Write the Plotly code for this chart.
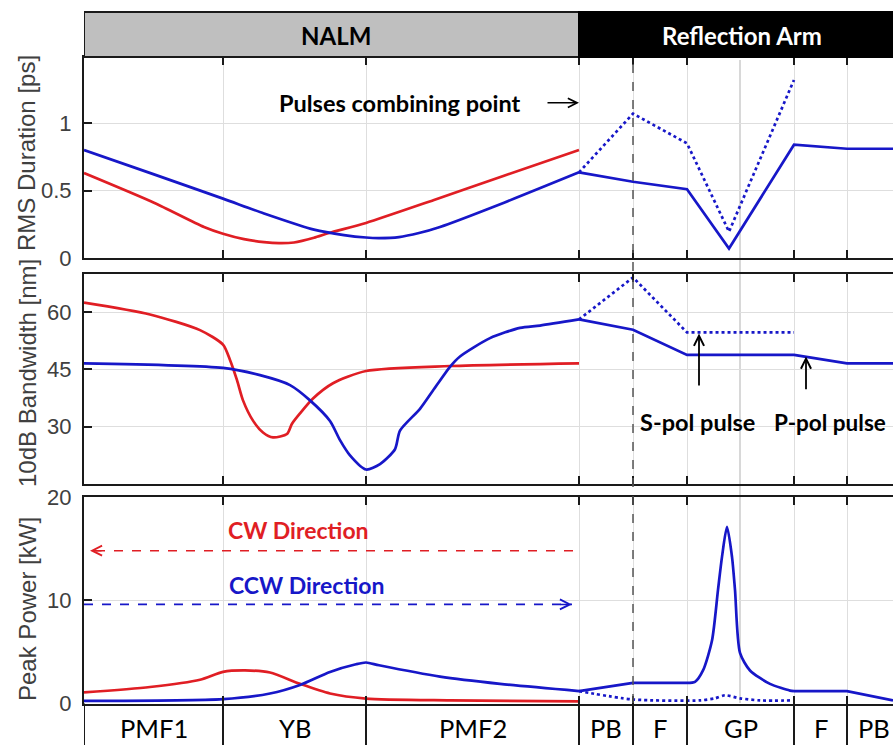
import plotly.graph_objects as go

# ---------------- data ----------------
seg_edges = [0, 1.39, 2.82, 4.95, 5.49, 6.03, 7.10, 7.63, 8.16]
seg_names = ["PMF1", "YB", "PMF2", "PB", "F", "GP", "F", "PB"]
x_view = [0, 8.09]
combine_x = 5.49
gp_mid = 6.56

# Panel 1: RMS duration [ps]
rms_cw_x = [0, 0.70, 1.20, 1.39, 1.60, 1.80, 1.95, 2.10, 2.30, 2.45, 2.82, 3.50, 4.20, 4.95]
rms_cw = [0.63, 0.41, 0.23, 0.18, 0.14, 0.118, 0.11, 0.115, 0.15, 0.185, 0.26, 0.43, 0.61, 0.80]
rms_ccw_x = [0, 0.70, 1.39, 1.80, 2.30, 2.60, 2.82, 2.95, 3.15, 3.35, 3.56, 4.20, 4.95]
rms_ccw = [0.80, 0.62, 0.44, 0.33, 0.21, 0.17, 0.152, 0.148, 0.155, 0.185, 0.23, 0.41, 0.635]
rms_arm_x = [4.95, 5.49, 6.03, 6.45, 7.10, 7.63, 8.20]
rms_arm = [0.635, 0.565, 0.51, 0.07, 0.84, 0.81, 0.81]
rms_dot_x = [4.95, 5.49, 6.03, 6.45, 7.10]
rms_dot = [0.635, 1.07, 0.85, 0.195, 1.32]

# Panel 2: 10 dB bandwidth [nm]
bw_cw_x = [0, 0.66, 1.16, 1.39, 1.46, 1.53, 1.59, 1.69, 1.79, 1.89, 2.03, 2.08,
           2.16, 2.29, 2.49, 2.82, 3.66, 4.95]
bw_cw = [62.5, 59.4, 55.3, 51.5, 47.5, 42.2, 36.9, 31.6, 28.5, 27.2, 28.1, 30.8,
         33.5, 37.4, 41.4, 44.6, 45.9, 46.6]
bw_ccw_x = [0, 1.39, 1.76, 2.06, 2.26, 2.46, 2.56, 2.66, 2.82, 2.96, 3.11, 3.16,
            3.36, 3.49, 3.66, 3.76, 4.06, 4.36, 4.56, 4.95]
bw_ccw = [46.6, 45.4, 43.5, 40.9, 36.9, 31.5, 26.5, 22.5, 18.8, 20.2, 24.1, 29.0,
          34.7, 39.5, 45.7, 48.4, 53.2, 55.9, 56.5, 58.1]
bw_arm_x = [4.95, 5.49, 6.03, 7.10, 7.63, 8.20]
bw_arm = [58.1, 55.4, 48.8, 48.8, 46.6, 46.6]
bw_dot_x = [4.95, 5.49, 6.03, 7.10]
bw_dot = [58.1, 69.1, 54.7, 54.7]

# Panel 3: peak power [kW]
pp_cw_x = [0, 0.66, 1.16, 1.39, 1.61, 1.86, 2.16, 2.46, 2.82, 3.66, 4.95]
pp_cw = [1.07, 1.6, 2.3, 3.06, 3.2, 3.0, 1.9, 0.97, 0.48, 0.3, 0.2]
pp_ccw_x = [0, 1.39, 1.86, 2.16, 2.46, 2.72, 2.82, 2.95, 3.56, 4.16, 4.95]
pp_ccw = [0.25, 0.42, 0.97, 1.8, 3.06, 3.8, 3.97, 3.7, 2.6, 1.9, 1.2]
pp_arm_x = [4.95, 5.49, 6.03]
pp_arm = [1.2, 2.0, 2.0]
pp_gp_x = [6.03, 6.11, 6.19, 6.28, 6.34, 6.38, 6.43, 6.48, 6.51, 6.56, 6.66, 6.86, 7.06, 7.10]
pp_gp = [2.0, 2.1, 3.2, 6.1, 11.0, 14.2, 17.1, 14.2, 11.0, 4.9, 3.2, 1.9, 1.25, 1.2]
pp_end_x = [7.10, 7.63, 8.09]
pp_end = [1.2, 1.2, 0.3]
pp_dot_x = [4.95, 5.49, 6.16, 6.31, 6.41, 6.56, 6.76, 7.10]
pp_dot = [1.2, 0.39, 0.3, 0.5, 0.8, 0.5, 0.3, 0.3]

# direction markers (panel 3)
cw_arrow_x = [4.89, 0.06]
cw_arrow_y = [14.8, 14.8]
ccw_arrow_x = [0.0, 4.88]
ccw_arrow_y = [9.6, 9.6]

# ---------------- style ----------------
RED = "#e01e24"
BLUE = "#1717c8"
GRID = "#dedede"
AX = "#1a1a1a"
TXT = "#404040"
LW = 2.7
BOLD = "Lato"

fig = go.Figure()

def add(x, y, color, dash, xa, ya, width=LW, shape="linear"):
    fig.add_trace(go.Scatter(x=x, y=y, mode="lines", xaxis=xa, yaxis=ya,
                             line=dict(color=color, width=width, dash=dash, shape=shape,
                                       smoothing=0.7 if shape == "spline" else None),
                             showlegend=False, hoverinfo="skip"))

add(rms_cw_x, rms_cw, RED, "solid", "x", "y", shape="spline")
add(rms_ccw_x, rms_ccw, BLUE, "solid", "x", "y", shape="spline")
add(rms_arm_x, rms_arm, BLUE, "solid", "x", "y")
add(rms_dot_x, rms_dot, BLUE, "dot", "x", "y")
add(bw_cw_x, bw_cw, RED, "solid", "x2", "y2", shape="spline")
add(bw_ccw_x, bw_ccw, BLUE, "solid", "x2", "y2", shape="spline")
add(bw_arm_x, bw_arm, BLUE, "solid", "x2", "y2")
add(bw_dot_x, bw_dot, BLUE, "dot", "x2", "y2")
add(pp_cw_x, pp_cw, RED, "solid", "x3", "y3", shape="spline")
add(pp_ccw_x, pp_ccw, BLUE, "solid", "x3", "y3", shape="spline")
add(pp_arm_x, pp_arm, BLUE, "solid", "x3", "y3")
add(pp_gp_x, pp_gp, BLUE, "solid", "x3", "y3", shape="spline")
add(pp_end_x, pp_end, BLUE, "solid", "x3", "y3")
add(pp_dot_x, pp_dot, BLUE, "dot", "x3", "y3", shape="spline")
add(cw_arrow_x, cw_arrow_y, RED, "dash", "x3", "y3", width=1.6)
add(ccw_arrow_x, ccw_arrow_y, BLUE, "dash", "x3", "y3", width=1.6)

W, H = 893, 745
def py(pix):
    return (H - pix) / H

dom1 = [py(258), py(57)]
dom2 = [py(484), py(274)]
dom3 = [py(703.5), py(497)]

xcommon = dict(range=x_view, tickmode="array", tickvals=seg_edges, showticklabels=False,
               ticks="inside", ticklen=8, tickwidth=2, tickcolor=AX,
               showline=True, linecolor=AX, linewidth=2, mirror="ticks", automargin=False,
               showgrid=True, gridcolor=GRID, gridwidth=1.2, zeroline=False)
ycommon = dict(ticks="inside", ticklen=8, tickwidth=2, tickcolor=AX,
               showline=True, linecolor=AX, linewidth=2, mirror=False, automargin=False,
               showgrid=True, gridcolor=GRID, gridwidth=1.2, zeroline=False,
               tickfont=dict(family="Liberation Sans", size=22, color=TXT),
               ticklabelstandoff=6)

fig.update_layout(
    template="none",
    width=W, height=H, margin=dict(l=84, r=0, t=0, b=0, pad=0, autoexpand=False),
    paper_bgcolor="white", plot_bgcolor="white", showlegend=False,
    xaxis=dict(anchor="y", **xcommon),
    xaxis2=dict(anchor="y2", matches="x", **xcommon),
    xaxis3=dict(anchor="y3", matches="x", **xcommon),
    yaxis=dict(domain=dom1, range=[0, 1.49], tickvals=[0, 0.5, 1],
               ticktext=["0", "0.5", "1"], anchor="x", **ycommon),
    yaxis2=dict(domain=dom2, range=[15, 70], tickvals=[30, 45, 60], anchor="x2", **ycommon),
    yaxis3=dict(domain=dom3, range=[0, 20], tickvals=[0, 10, 20], anchor="x3", **ycommon),
)

shapes = []
# header boxes
shapes.append(dict(type="rect", xref="x", yref="paper", x0=seg_edges[0], x1=seg_edges[3],
                   y0=py(57), y1=py(12), fillcolor="#bfbfbf", line=dict(color=AX, width=2), layer="above"))
shapes.append(dict(type="rect", xref="x", yref="paper", x0=seg_edges[3], x1=8.3,
                   y0=py(57), y1=py(12), fillcolor="black", line=dict(color="black", width=2), layer="above"))
# GP centre line & combining-point dashed line
shapes.append(dict(type="line", xref="x", yref="paper", x0=gp_mid, x1=gp_mid,
                   y0=py(703), y1=py(60), line=dict(color="#cfcfcf", width=1.6), layer="below"))
shapes.append(dict(type="line", xref="x", yref="paper", x0=combine_x, x1=combine_x,
                   y0=py(703), y1=py(58), line=dict(color="#555555", width=1.5, dash="dash"), layer="above"))
# label row separators
for e in seg_edges[:-1]:
    shapes.append(dict(type="line", xref="x", yref="paper", x0=e, x1=e,
                       y0=-0.05, y1=py(703.5), line=dict(color=AX, width=2)))
fig.update_layout(shapes=shapes)

ann = []
# y titles
for text, ypix in [("RMS Duration [ps]", 153), ("10dB Bandwidth [nm]", 373), ("Peak Power [kW]", 609)]:
    ann.append(dict(text=text, xref="paper", yref="paper", x=(27 - 84) / 809, y=py(ypix),
                    xanchor="center", yanchor="middle", textangle=-90, showarrow=False,
                    font=dict(family="Liberation Sans", size=24, color=TXT)))
# segment labels
for i, name in enumerate(seg_names):
    ann.append(dict(text=name, xref="x3", yref="paper", x=(seg_edges[i] + seg_edges[i + 1]) / 2,
                    y=py(728), showarrow=False, xanchor="center", yanchor="middle",
                    font=dict(family="Lato", size=25.5, color="black")))
# header text
ann.append(dict(text="<b>NALM</b>", xref="x", yref="paper", x=(seg_edges[0] + seg_edges[3]) / 2 + 0.04,
                y=py(35), showarrow=False, xanchor="center", yanchor="middle",
                font=dict(family=BOLD, size=24, color="black")))
ann.append(dict(text="<b>Reflection Arm</b>", xref="x", yref="paper", x=6.58,
                y=py(35), showarrow=False, xanchor="center", yanchor="middle",
                font=dict(family=BOLD, size=24, color="white")))
# panel 1 annotation
ann.append(dict(text="<b>Pulses combining point</b>", xref="x", yref="y", x=4.39, y=1.15,
                xanchor="right", yanchor="middle", showarrow=False,
                font=dict(family=BOLD, size=23.5, color="black")))
ann.append(dict(text="", xref="x", yref="y", x=4.95, y=1.15, axref="x", ayref="y",
                ax=4.62, ay=1.15, showarrow=True, arrowhead=5, arrowsize=1.2,
                arrowwidth=1.5, arrowcolor="black", standoff=0, font=dict(size=1)))
# panel 2 annotations
ann.append(dict(text="", xref="x2", yref="y2", x=6.15, y=54.4, axref="x2", ayref="y2",
                ax=6.15, ay=40.4, showarrow=True, arrowhead=5, arrowsize=1.1,
                arrowwidth=1.8, arrowcolor="black", standoff=0, font=dict(size=1)))
ann.append(dict(text="", xref="x2", yref="y2", x=7.22, y=48.4, axref="x2", ayref="y2",
                ax=7.22, ay=39.4, showarrow=True, arrowhead=5, arrowsize=1.1,
                arrowwidth=1.8, arrowcolor="black", standoff=0, font=dict(size=1)))
ann.append(dict(text="<b>S-pol pulse</b>", xref="x2", yref="y2", x=6.13, y=31.2,
                xanchor="center", yanchor="middle", showarrow=False,
                font=dict(family=BOLD, size=23.5, color="black")))
ann.append(dict(text="<b>P-pol pulse</b>", xref="x2", yref="y2", x=6.88, y=31.2,
                xanchor="left", yanchor="middle", showarrow=False,
                font=dict(family=BOLD, size=22.5, color="black")))
# panel 3 annotations
ann.append(dict(text="<b>CW Direction</b>", xref="x3", yref="y3", x=2.14, y=16.8,
                xanchor="center", yanchor="middle",
                showarrow=False, font=dict(family=BOLD, size=23, color=RED)))
ann.append(dict(text="<b>CCW Direction</b>", xref="x3", yref="y3", x=2.22, y=11.45,
                xanchor="center", yanchor="middle",
                showarrow=False, font=dict(family=BOLD, size=23, color=BLUE)))
ann.append(dict(text="", xref="x3", yref="y3", x=cw_arrow_x[1], y=cw_arrow_y[1], axref="x3", ayref="y3",
                ax=cw_arrow_x[1] + 0.12, ay=cw_arrow_y[1], showarrow=True, arrowhead=5,
                arrowsize=1.3, arrowwidth=1.5, arrowcolor=RED, standoff=0,
                font=dict(size=1), borderpad=0))
ann.append(dict(text="", xref="x3", yref="y3", x=ccw_arrow_x[1], y=ccw_arrow_y[1], axref="x3", ayref="y3",
                ax=ccw_arrow_x[1] - 0.12, ay=ccw_arrow_y[1], showarrow=True, arrowhead=5,
                arrowsize=1.3, arrowwidth=1.5, arrowcolor=BLUE, standoff=0,
                font=dict(size=1), borderpad=0))
fig.update_layout(annotations=ann)

fig.write_html("out.html")
